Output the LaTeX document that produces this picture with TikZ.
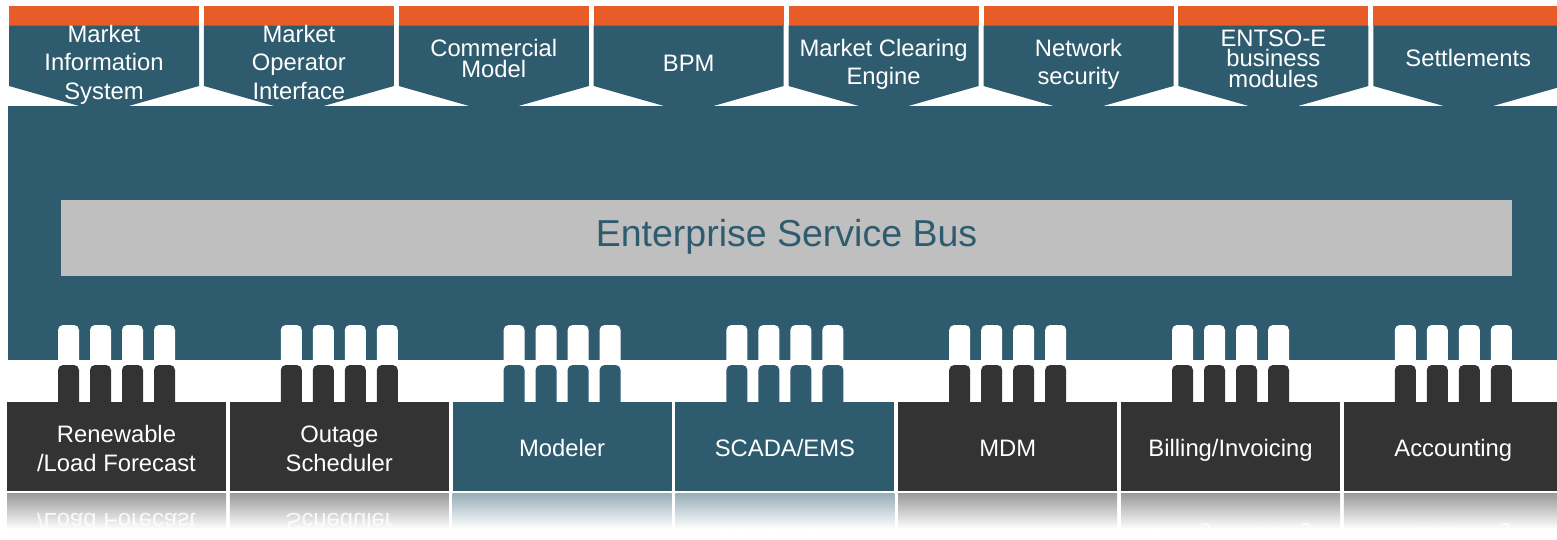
\documentclass[tikz,border=0pt]{standalone}
\usepackage{fontspec}
\setmainfont{Liberation Sans}
\definecolor{tealc}{RGB}{46,92,110}
\definecolor{orng}{RGB}{232,92,39}
\definecolor{darkc}{RGB}{51,51,51}
\definecolor{esbgray}{RGB}{191,191,191}
\begin{document}
\begin{tikzpicture}[x=1pt,y=-1pt,
  txt/.style={font=\fontsize{23.8}{28}\selectfont, text=white, anchor=base, inner sep=0pt},
  refl/.style={txt, yscale=-1, text=white, opacity=0.85},
  esbtxt/.style={font=\fontsize{37.5}{44}\selectfont, text=tealc, anchor=base, inner sep=0pt}]
\useasboundingbox (0,0) rectangle (1557,539);
\clip (0,0) rectangle (1557,539);
% top tabs
\foreach \i in {0,...,7}{
  \pgfmathsetmacro\L{9+194.9*\i}
  \fill[orng] (\L,6) rectangle ++(190,20);
  \fill[tealc] (\L,25.5) -- ++(190,0) -- ++(0,60.5) -- ++(-95,27) -- ++(-95,-27) -- cycle;
}
% main block
\fill[tealc] (8,106) rectangle (1557,360);
% ESB
\node[fill=esbgray, minimum width=1451pt, minimum height=76pt, inner sep=0pt, anchor=north west] (esb) at (61,200) {};
\node[esbtxt] (esbt) at (786.5,246) {Enterprise Service Bus};
% connectors and boxes
\foreach \i/\col in {0/darkc,1/darkc,2/tealc,3/tealc,4/darkc,5/darkc,6/darkc}{
  \pgfmathsetmacro\c{116.5+222.8*\i}
  \foreach \d in {-48,-16,16,48}{
    \fill[white,rounded corners=5pt] ({\c+\d-10.5},362) |- ({\c+\d+10.5},325) -- ({\c+\d+10.5},362);
    \fill[\col,rounded corners=5pt] ({\c+\d-10.5},403) |- ({\c+\d+10.5},365) -- ({\c+\d+10.5},403);
  }
  \fill[\col] ({\c-109.5},402) rectangle ++(219,89);
  \shade[top color=\col!50!white, bottom color=white] ({\c-109.5},493) rectangle ++(219,36);
}
% tab texts
\node[txt] (t1a) at (104,42) {Market};
\node[txt] (t1b) at (104,70.5) {Information};
\node[txt] (t1c) at (104,99) {System};
\node[txt] (t2a) at (298.9,42) {Market};
\node[txt] (t2b) at (298.9,70.5) {Operator};
\node[txt] (t2c) at (298.9,99) {Interface};
\node[txt] (t3a) at (493.8,56) {Commercial};
\node[txt] (t3b) at (493.8,77) {Model};
\node[txt] (t4a) at (688.7,71) {BPM};
\node[txt] (t5a) at (883.6,56) {Market Clearing};
\node[txt] (t5b) at (883.6,84) {Engine};
\node[txt] (t6a) at (1078.5,56) {Network};
\node[txt] (t6b) at (1078.5,84) {security};
\node[txt] (t7a) at (1273.4,46) {ENTSO-E};
\node[txt] (t7b) at (1273.4,66) {business};
\node[txt] (t7c) at (1273.4,87) {modules};
\node[txt] (t8a) at (1468.3,66) {Settlements};
% box texts
\node[txt] (b1a) at (116.5,442) {Renewable};
\node[txt] (b1b) at (116.5,471) {/Load Forecast};
\node[txt] (b2a) at (339.3,442) {Outage};
\node[txt] (b2b) at (339.3,471) {Scheduler};
\node[txt] (b3a) at (562.1,456) {Modeler};
\node[txt] (b4a) at (784.9,456) {SCADA/EMS};
\node[txt] (b5a) at (1007.7,456) {MDM};
\node[txt] (b6a) at (1230.5,456) {Billing/Invoicing};
\node[txt] (b7a) at (1453.3,456) {Accounting};
% reflections
\node[refl] (r1b) at (116.5,513) {/Load Forecast};
\node[refl] (r2b) at (339.3,513) {Scheduler};
\node[refl] (r3a) at (562.1,528) {Modeler};
\node[refl] (r4a) at (784.9,528) {SCADA/EMS};
\node[refl] (r5a) at (1007.7,528) {MDM};
\node[refl] (r6a) at (1230.5,528) {Billing/Invoicing};
\node[refl] (r7a) at (1453.3,528) {Accounting};
\end{tikzpicture}
\end{document}
